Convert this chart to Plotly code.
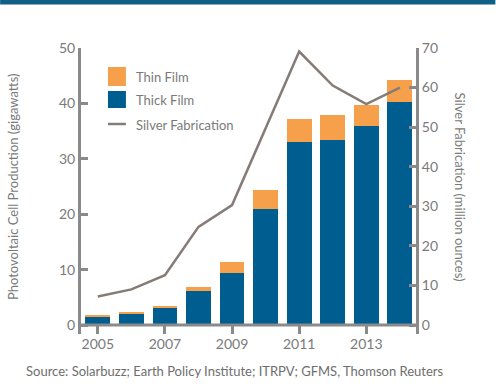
import plotly.graph_objects as go

years = [2005, 2006, 2007, 2008, 2009, 2010, 2011, 2012, 2013, 2014]
thick_film = [1.6, 2.1, 3.1, 6.2, 9.4, 20.9, 33.0, 33.4, 35.9, 40.3]
thin_film = [0.1, 0.25, 0.4, 0.7, 2.0, 3.5, 4.2, 4.5, 3.8, 3.9]
silver = [7.2, 9.0, 12.6, 24.8, 30.3, 49.6, 69.1, 60.5, 55.8, 60.0]

left_ticks = [0, 10, 20, 30, 40, 50]
right_ticks = [0, 10, 20, 30, 40, 50, 60, 70]
x_ticks = [2005, 2007, 2009, 2011, 2013]

BLUE = "#005D8F"
ORANGE = "#F7A04B"
LINE = "#857C78"
AXIS = "#8A8A8A"
TXT = "#7A7A7A"
FONT = "Lato"

fig = go.Figure()
fig.add_trace(go.Bar(x=years, y=thick_film, marker_color=BLUE, width=0.74,
                     name="Thick Film", marker_line_width=0))
fig.add_trace(go.Bar(x=years, y=thin_film, marker_color=ORANGE, width=0.74,
                     name="Thin Film", marker_line_width=0))
fig.add_trace(go.Scatter(x=years, y=silver, mode="lines", yaxis="y2",
                         line=dict(color=LINE, width=2.5), name="Silver Fabrication"))

W, H = 496, 391
L, R, T, B = 81, 416.5, 48, 334

fig.update_layout(
    width=W, height=H,
    barmode="stack",
    showlegend=False,
    plot_bgcolor="white", paper_bgcolor="white",
    margin=dict(l=L, r=W - R, t=T, b=H - B, pad=0),
    font=dict(family=FONT, color=TXT, size=13),
    xaxis=dict(range=[2004.5, 2014.48], tickvals=x_ticks, ticktext=[str(v) for v in x_ticks],
               ticks="inside", ticklen=9, tickwidth=3, tickcolor=AXIS,
               showline=False, showgrid=False, zeroline=False,
               tickfont=dict(size=14, color=TXT, family=FONT)),
    yaxis=dict(range=[-1.625, 50], tickvals=left_ticks, ticks="inside", ticklen=7,
               tickwidth=3, tickcolor=AXIS, showline=True, linecolor=AXIS, linewidth=3,
               showgrid=False, zeroline=False,
               tickfont=dict(size=14, color=TXT, family=FONT)),
    yaxis2=dict(range=[-2.274, 70], tickvals=right_ticks, overlaying="y", side="right",
                ticks="inside", ticklen=7, tickwidth=3, tickcolor=AXIS,
                showline=True, linecolor=AXIS, linewidth=3,
                showgrid=False, zeroline=False,
                tickfont=dict(size=14, color=TXT, family=FONT)),
)


def xpap(xp):
    return (xp - L) / (R - L)


def ypap(yp):
    return (B - yp) / (B - T)


shapes = [
    # top band
    dict(type="rect", xref="paper", yref="paper", x0=xpap(0), x1=xpap(W),
         y0=ypap(0), y1=ypap(4.5), fillcolor="#0F5F86", line_width=0, layer="above"),
    # baseline at zero
    dict(type="line", xref="paper", yref="y", x0=0, x1=1, y0=0, y1=0,
         line=dict(color=AXIS, width=3), layer="above"),
    # legend swatches
    dict(type="rect", xref="paper", yref="paper", x0=xpap(108), x1=xpap(126),
         y0=ypap(86), y1=ypap(67), fillcolor=ORANGE, line_width=0),
    dict(type="rect", xref="paper", yref="paper", x0=xpap(108), x1=xpap(126),
         y0=ypap(108), y1=ypap(91), fillcolor=BLUE, line_width=0),
    dict(type="line", xref="paper", yref="paper", x0=xpap(108), x1=xpap(126),
         y0=ypap(124), y1=ypap(124), line=dict(color=LINE, width=2.5)),
]
fig.update_layout(shapes=shapes)

ann = []
for label, yy in [("Thin Film", 77), ("Thick Film", 100), ("Silver Fabrication", 124.5)]:
    ann.append(dict(text=label, xref="paper", yref="paper", x=xpap(134), y=ypap(yy),
                    xanchor="left", yanchor="middle", showarrow=False,
                    font=dict(size=13, color=TXT, family=FONT)))
ann.append(dict(text="Photovoltaic Cell Production (gigawatts)", xref="paper", yref="paper",
                x=xpap(13), y=ypap(187), xanchor="center", yanchor="middle", textangle=-90,
                showarrow=False, font=dict(size=13, color=TXT, family=FONT)))
ann.append(dict(text="Silver Fabrication (million ounces)", xref="paper", yref="paper",
                x=xpap(461), y=ypap(187), xanchor="center", yanchor="middle", textangle=90,
                showarrow=False, font=dict(size=13, color=TXT, family=FONT)))
ann.append(dict(text="Source: Solarbuzz; Earth Policy Institute; ITRPV; GFMS, Thomson Reuters",
                xref="paper", yref="paper", x=xpap(24), y=ypap(371), xanchor="left",
                yanchor="middle", showarrow=False, font=dict(size=13, color="#6E6E6E", family=FONT)))
fig.update_layout(annotations=ann)

fig.write_html("out.html", config={"displayModeBar": False},
               post_script="document.body.style.margin='0';document.body.style.overflow='hidden';")
